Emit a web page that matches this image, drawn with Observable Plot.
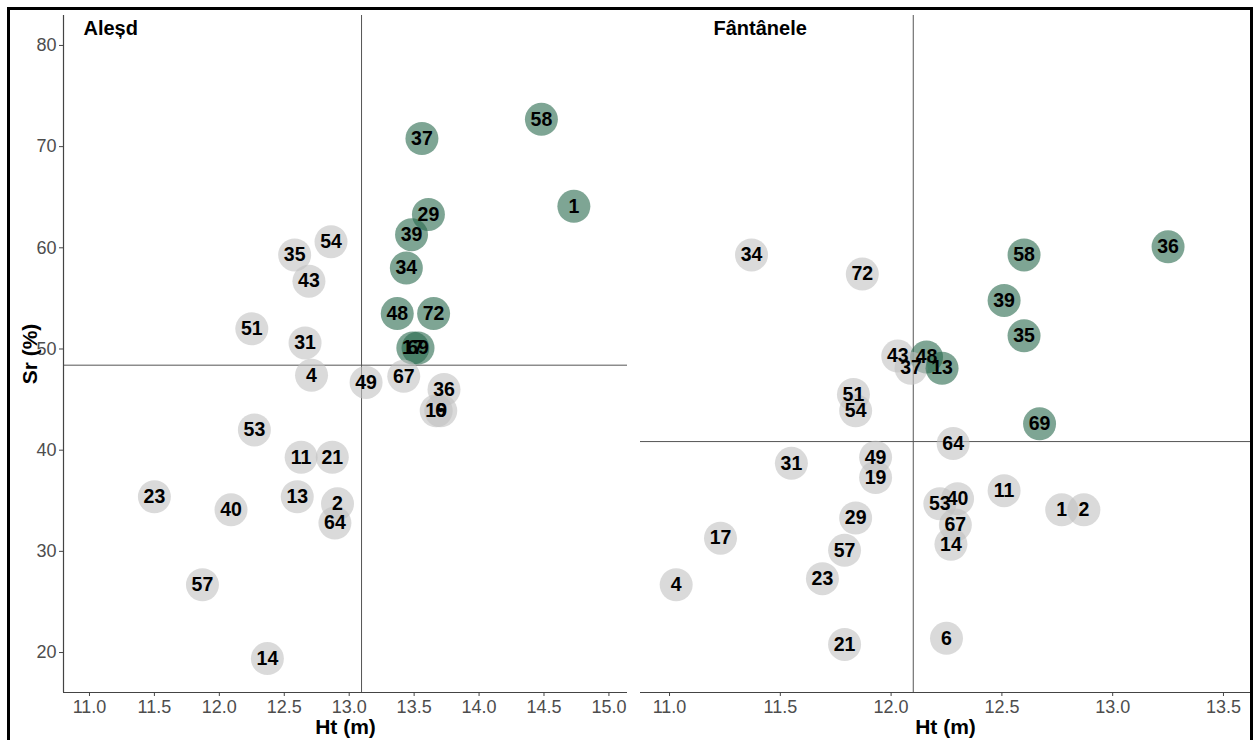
<!DOCTYPE html>
<html>
<head>
<meta charset="utf-8">
<script src="https://cdn.jsdelivr.net/npm/d3@7"></script>
<script src="https://cdn.jsdelivr.net/npm/@observablehq/plot@0.6"></script>
<style>
  html, body { margin: 0; padding: 0; background: #fff; }
  body { width: 1259px; height: 740px; position: relative; overflow: hidden; font-family: "Liberation Sans", Arial, sans-serif; }
  #frame { position: absolute; left: 7px; top: 7px; width: 1246px; height: 760px; border: 3px solid #000; box-sizing: border-box; }
  .panel { position: absolute; top: 0; }
  .panel svg { background: transparent; }
</style>
</head>
<body>
<div id="frame"></div>
<div id="left" class="panel" style="left:0px"></div>
<div id="right" class="panel" style="left:634px"></div>
<script>
// ---- data ----
const panelTitles = ["Aleșd", "Fântânele"];
const xLabel = "Ht (m)";
const yLabel = "Sr (%)";

const alesdIds = ["58","37","1","29","39","34","48","72","17","69","67","36","19","6","54","35","43","51","31","4","49","53","11","21","23","40","13","2","64","57","14"];
const alesdHt  = [14.48,13.56,14.73,13.61,13.48,13.44,13.37,13.65,13.49,13.53,13.42,13.73,13.67,13.705,12.86,12.58,12.69,12.25,12.66,12.71,13.13,12.27,12.63,12.87,11.50,12.09,12.60,12.91,12.89,11.87,12.37];
const alesdSr  = [72.7,70.8,64.1,63.3,61.3,58.0,53.5,53.5,50.1,50.1,47.3,46.0,43.9,43.9,60.6,59.3,56.7,52.0,50.6,47.4,46.7,42.0,39.3,39.3,35.4,34.1,35.4,34.7,32.8,26.7,19.4];
const alesdMeanHt = 13.095;
const alesdMeanSr = 48.4;

const fantIds = ["36","58","34","72","39","35","43","48","37","13","51","54","69","64","31","49","19","11","53","40","1","2","67","29","17","57","14","23","4","21","6"];
const fantHt  = [13.25,12.60,11.37,11.87,12.51,12.60,12.03,12.16,12.09,12.23,11.83,11.84,12.67,12.28,11.55,11.93,11.93,12.51,12.22,12.30,12.77,12.87,12.29,11.84,11.23,11.79,12.27,11.69,11.03,11.79,12.25];
const fantSr  = [60.1,59.3,59.3,57.4,54.8,51.3,49.3,49.2,48.1,48.1,45.5,43.9,42.6,40.65,38.7,39.3,37.3,36.0,34.7,35.2,34.1,34.1,32.6,33.3,31.3,30.1,30.7,27.3,26.7,20.8,21.4];
const fantMeanHt = 12.10;
const fantMeanSr = 40.85;

const alesdXTicks = [11.0, 11.5, 12.0, 12.5, 13.0, 13.5, 14.0, 14.5, 15.0];
const fantXTicks  = [11.0, 11.5, 12.0, 12.5, 13.0, 13.5];
const yTicks = [20, 30, 40, 50, 60, 70, 80];

// ---- styles ----
const GREEN = "#28694d";
const GRAY = "#c1c1c1";
const FONT = "Liberation Sans, Arial, sans-serif";
const yDomain = [16.05, 82.96];

function rows(ids, ht, sr, mx, my) {
  return ids.map((id, i) => ({id, ht: ht[i], sr: sr[i], hi: ht[i] > mx && sr[i] > my}));
}

function panel(opts) {
  const data = rows(opts.ids, opts.ht, opts.sr, opts.mx, opts.my);
  const marks = [
    Plot.ruleY([opts.my], {stroke: "#555", strokeWidth: 1}),
    Plot.ruleX([opts.mx], {stroke: "#555", strokeWidth: 1}),
    Plot.ruleY([yDomain[0]], {stroke: "#444", strokeWidth: 1.2}),
    Plot.dot(data, {x: "ht", y: "sr", r: 16.5, fill: d => d.hi ? GREEN : GRAY, fillOpacity: 0.6, stroke: null}),
    Plot.text(data, {x: "ht", y: "sr", text: "id", fontSize: 19.5, fontWeight: "bold", fill: "#000", fontFamily: FONT}),
    Plot.axisX(opts.xTicks, {tickFormat: d3.format(".1f"), tickSize: 4, tickPadding: 4, fontSize: 18, fill: "#4d4d4d", stroke: "#444", label: null, fontFamily: FONT}),
    Plot.text([opts.title], {frameAnchor: "top-left", text: d => d, dx: opts.titleDx, dy: 5, fontSize: 20, fontWeight: "bold", fill: "#000", fontFamily: FONT, textAnchor: "start", lineAnchor: "top"}),
    Plot.text([xLabel], {frameAnchor: "bottom", text: d => d, dy: 35, fontSize: 21, fontWeight: "bold", fill: "#000", fontFamily: FONT, lineAnchor: "middle"})
  ];
  if (opts.yAxis) {
    marks.push(Plot.ruleX([opts.xDomain[0]], {stroke: "#444", strokeWidth: 1.2}));
    marks.push(Plot.axisY(yTicks, {tickSize: 4, tickPadding: 3, fontSize: 18, fill: "#4d4d4d", stroke: "#444", label: null, fontFamily: FONT}));
    marks.push(Plot.text([yLabel], {frameAnchor: "left", text: d => d, dx: -33, rotate: -90, fontSize: 21, fontWeight: "bold", fill: "#000", fontFamily: FONT, textAnchor: "middle", lineAnchor: "middle"}));
  }
  return Plot.plot({
    width: opts.width,
    height: 740,
    marginLeft: opts.marginLeft,
    marginRight: opts.marginRight,
    marginTop: 15,
    marginBottom: 48,
    style: {background: "transparent", fontFamily: FONT},
    x: {domain: opts.xDomain, axis: null},
    y: {domain: yDomain, axis: null},
    marks
  });
}

document.getElementById("left").appendChild(panel({
  ids: alesdIds, ht: alesdHt, sr: alesdSr, mx: alesdMeanHt, my: alesdMeanSr,
  xTicks: alesdXTicks, xDomain: [10.80, 15.143], title: panelTitles[0], titleDx: 20,
  width: 634, marginLeft: 63, marginRight: 7, yAxis: true
}));
document.getElementById("right").appendChild(panel({
  ids: fantIds, ht: fantHt, sr: fantSr, mx: fantMeanHt, my: fantMeanSr,
  xTicks: fantXTicks, xDomain: [10.869, 13.622], title: panelTitles[1], titleDx: 73,
  width: 625, marginLeft: 6, marginRight: 9, yAxis: false
}));
</script>
</body>
</html>
